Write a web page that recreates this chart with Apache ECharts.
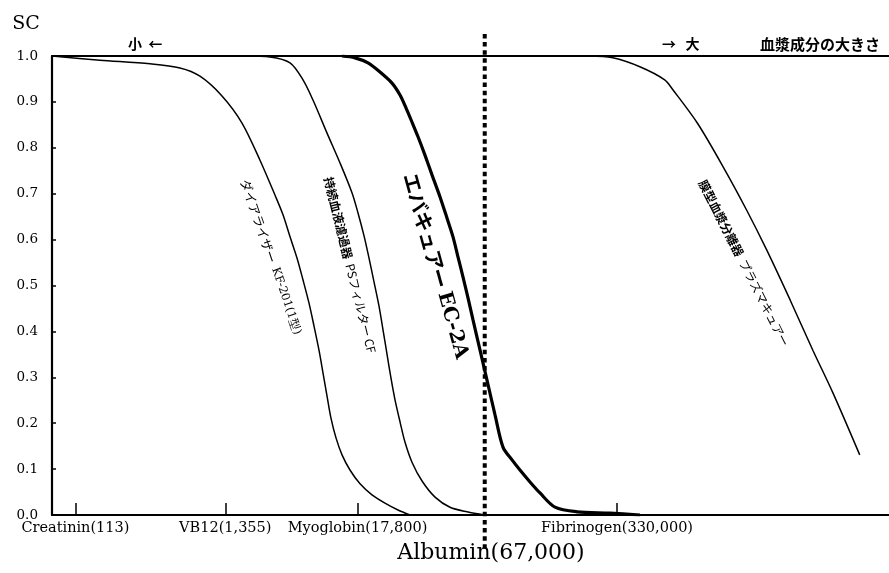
<!DOCTYPE html>
<html lang="ja" style="height: 100%">
  <head>
    <meta charset="utf-8" />
    <title>SC</title>
  </head>
  <body style="height: 100%; margin: 0; background: #fff">
    <div id="container" style="width: 889px; height: 573px"></div>

    <script
      type="text/javascript"
      src="https://fastly.jsdelivr.net/npm/echarts@6/dist/echarts.min.js"
    ></script>

    <script type="text/javascript">
      // x is a relative position along the size axis (0 = left edge, 100 = right edge)
      var tickPositions = [2.8, 20.7, 36.5, 67.5];
      var tickLabels = ["Creatinin(113)", "VB12(1,355)", "Myoglobin(17,800)", "Fibrinogen(330,000)"];
      var albuminPos = 51.7;
      var albuminLabel = "Albumin(67,000)";

      // ダイアライザー KF-201
      var kf201 = [
        [0, 1.0], [5.73, 0.991], [11.71, 0.983], [15.29, 0.974], [17.68, 0.956],
        [20.31, 0.913], [22.7, 0.854], [24.85, 0.773], [26.64, 0.697], [27.6, 0.654],
        [28.44, 0.606], [29.27, 0.56], [29.99, 0.512], [30.7, 0.462], [31.3, 0.412],
        [31.9, 0.359], [32.38, 0.309], [32.86, 0.259], [33.33, 0.211], [33.93, 0.168],
        [34.65, 0.131], [35.6, 0.098], [36.8, 0.068], [38.23, 0.044], [39.78, 0.026],
        [41.34, 0.011], [42.77, 0.0]
      ];
      // 持続血液濾過器 PSフィルター CF
      var psFilter = [
        [23.06, 1.0], [26.05, 0.998], [28.44, 0.985], [29.99, 0.948], [31.18, 0.904],
        [32.86, 0.832], [34.41, 0.767], [35.84, 0.702], [36.56, 0.658], [37.28, 0.608],
        [37.87, 0.56], [38.47, 0.508], [39.07, 0.455], [39.55, 0.403], [40.02, 0.351],
        [40.5, 0.298], [40.98, 0.251], [41.58, 0.203], [42.17, 0.159], [43.01, 0.115],
        [44.21, 0.074], [45.76, 0.039], [47.55, 0.017], [49.58, 0.007], [51.73, 0.0]
      ];
      // エバキュアー EC-2A
      var ec2a = [
        [34.65, 1.0], [36.2, 0.996], [37.75, 0.985], [39.19, 0.965], [40.62, 0.941],
        [41.58, 0.915], [42.29, 0.887], [43.01, 0.856], [43.73, 0.824], [44.56, 0.784],
        [45.4, 0.741], [46.36, 0.693], [47.19, 0.647], [47.91, 0.606], [48.51, 0.562],
        [49.1, 0.519], [49.7, 0.473], [50.3, 0.425], [51.14, 0.359], [51.97, 0.294],
        [52.93, 0.218], [53.88, 0.148], [54.96, 0.12], [55.91, 0.098], [57.11, 0.072],
        [58.3, 0.048], [60.1, 0.017], [62.72, 0.007], [66.67, 0.004], [70.25, 0.0]
      ];
      // 膜型血漿分離器 プラズマキュアー
      var plasmacure = [
        [60.7, 1.0], [64.3, 1.0], [67.0, 0.996], [70.3, 0.976], [73.2, 0.948],
        [74.2, 0.926], [77.1, 0.854], [80.2, 0.758], [83.0, 0.664], [85.4, 0.577],
        [88.2, 0.468], [90.9, 0.359], [93.3, 0.266], [96.5, 0.131]
      ];
      var albuminLine = [[albuminPos, 1.048], [albuminPos, -0.076]];

      var serif = "DejaVu Serif";
      var jp = "Noto Sans CJK JP";

      var dom = document.getElementById("container");
      var myChart = echarts.init(dom, null, { renderer: "canvas" });

      function curve(name, data, width) {
        return {
          name: name,
          type: "line",
          data: data,
          showSymbol: false,
          smooth: 0.3,
          lineStyle: { color: "#000", width: width },
          z: 3
        };
      }

      function rotText(text, x, y, deg, rich) {
        return {
          type: "text",
          x: x,
          y: y,
          rotation: (-deg * Math.PI) / 180,
          style: {
            text: text,
            rich: rich,
            align: "center",
            verticalAlign: "middle",
            fill: "#000"
          }
        };
      }

      var option = {
        animation: false,
        backgroundColor: "#fff",
        grid: { left: 52, right: 0, top: 56, bottom: 58 },
        xAxis: [
          {
            type: "value",
            min: 0,
            max: 100,
            splitLine: { show: false },
            axisLine: { lineStyle: { color: "#000", width: 2.2 } },
            axisTick: {
              inside: true,
              length: 12,
              customValues: tickPositions,
              lineStyle: { color: "#000", width: 1.5 }
            },
            axisLabel: {
              customValues: tickPositions,
              margin: 6,
              color: "#000",
              fontFamily: serif,
              fontSize: 14.5,
              formatter: function (v) {
                var best = 0;
                tickPositions.forEach(function (p, i) {
                  if (Math.abs(p - v) < Math.abs(tickPositions[best] - v)) best = i;
                });
                return tickLabels[best];
              }
            }
          },
          {
            type: "value",
            position: "top",
            min: 0,
            max: 100,
            splitLine: { show: false },
            axisLine: { show: true, lineStyle: { color: "#000", width: 2 } },
            axisTick: { show: false },
            axisLabel: { show: false }
          }
        ],
        yAxis: {
          type: "value",
          min: 0,
          max: 1,
          interval: 0.1,
          splitLine: { show: false },
          axisLine: { show: true, lineStyle: { color: "#000", width: 2.2 } },
          axisTick: { show: true, inside: true, length: 4, lineStyle: { color: "#000", width: 1.5 } },
          axisLabel: {
            margin: 14,
            color: "#000",
            fontFamily: serif,
            fontSize: 13.5,
            formatter: function (v) { return v.toFixed(1); }
          }
        },
        series: [
          curve("KF-201", kf201, 1.5),
          curve("PS Filter CF", psFilter, 1.5),
          curve("EC-2A", ec2a, 3.2),
          curve("Plasmacure", plasmacure, 1.5),
          {
            name: "Albumin",
            type: "line",
            data: albuminLine,
            clip: false,
            showSymbol: false,
            lineStyle: { color: "#000", width: 4, type: [4.5, 3.6], cap: "butt" },
            z: 4
          }
        ],
        graphic: [
          {
            type: "text",
            x: 26,
            y: 24,
            style: { text: "SC", font: "19px " + serif, fill: "#000", align: "center", verticalAlign: "middle" }
          },
          {
            type: "text",
            x: 128,
            y: 44,
            style: { text: "小  ←", font: "bold 14px " + jp, fill: "#000", align: "left", verticalAlign: "middle" }
          },
          {
            type: "text",
            x: 662,
            y: 44,
            style: { text: "→   大", font: "bold 14px " + jp, fill: "#000", align: "left", verticalAlign: "middle" }
          },
          {
            type: "text",
            x: 760,
            y: 44,
            style: { text: "血漿成分の大きさ", font: "bold 15px " + jp, fill: "#000", align: "left", verticalAlign: "middle" }
          },
          {
            type: "text",
            x: 491,
            y: 553,
            style: { text: albuminLabel, font: "22px " + serif, fill: "#000", align: "center", verticalAlign: "middle" }
          },
          rotText("{a|ダイアライザー  }{b|KF-201(1型)}", 271, 257, 71, {
            a: { fontFamily: jp, fontSize: 12.5, fill: "#000" },
            b: { fontFamily: serif, fontSize: 11.5, fill: "#000" }
          }),
          rotText("{a|持続血液濾過器  }{b|PSフィルター CF}", 350, 265, 76, {
            a: { fontFamily: jp, fontSize: 12, fontWeight: "bold", fill: "#000" },
            b: { fontFamily: jp, fontSize: 12, fill: "#000" }
          }),
          rotText("{a|エバキュアー }{b|EC-2A}", 436, 266, 74.5, {
            a: { fontFamily: jp, fontSize: 20, fontWeight: "bold", fill: "#000" },
            b: { fontFamily: serif, fontSize: 20, fontWeight: "bold", fill: "#000" }
          }),
          rotText("{a|膜型血漿分離器  }{b|プラズマキュアー}", 744, 263, 63, {
            a: { fontFamily: jp, fontSize: 12, fontWeight: "bold", fill: "#000" },
            b: { fontFamily: jp, fontSize: 12, fill: "#000" }
          })
        ]
      };

      myChart.setOption(option);
      window.addEventListener("resize", myChart.resize);
    </script>
  </body>
</html>
